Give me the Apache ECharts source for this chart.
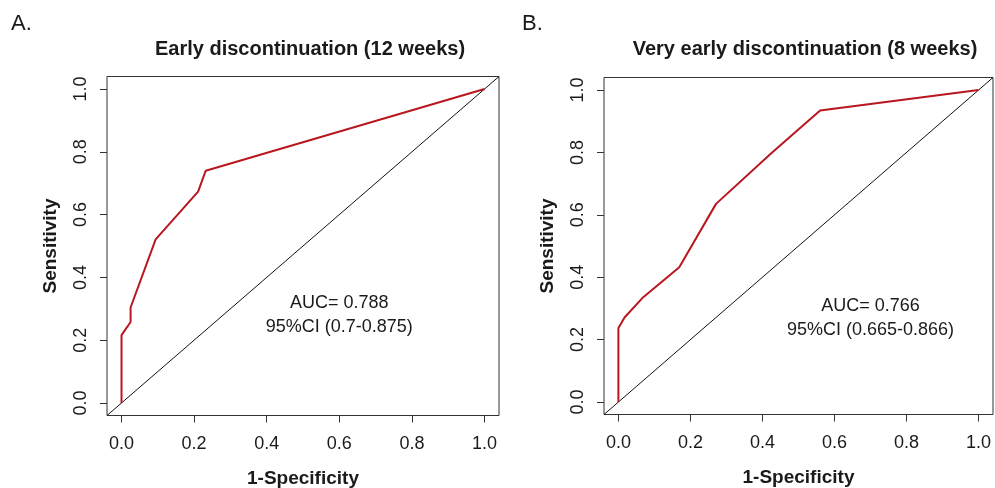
<!DOCTYPE html>
<html>
<head>
<meta charset="utf-8">
<script src="https://cdn.jsdelivr.net/npm/echarts@6/dist/echarts.min.js"></script>
<style>
	html, body { margin: 0; padding: 0; background: #fff; }
	#chart { width: 995px; height: 488px; }
</style>
</head>
<body>
<div id="chart"></div>
<script>
// ROC points (1-specificity, sensitivity)
const fprA = [0, 0, 0.025, 0.025, 0.094, 0.211, 0.232, 1];
const tprA = [0, 0.216, 0.258, 0.304, 0.521, 0.673, 0.740, 1];
const fprB = [0, 0, 0.017, 0.069, 0.169, 0.271, 0.426, 0.560, 1];
const tprB = [0, 0.237, 0.271, 0.336, 0.432, 0.635, 0.799, 0.934, 1];

const ticks = [0, 0.2, 0.4, 0.6, 0.8, 1.0];
const titles = ['Early discontinuation (12 weeks)', 'Very early discontinuation (8 weeks)'];
const panelTags = ['A.', 'B.'];
const aucText = [
	'AUC= 0.788\n95%CI (0.7-0.875)',
	'AUC= 0.766\n95%CI (0.665-0.866)'
];
const aucPos = [[0.6, 0.281], [0.7, 0.268]];

const FONT = '"Liberation Sans", Arial, Helvetica, sans-serif';
const INK = '#1a1a1a';

function zip(xs, ys) {
	return xs.map((x, i) => [x, ys[i]]);
}

function valueAxis(idx, name, isY) {
	return {
		type: 'value',
		gridIndex: idx,
		min: -0.04,
		max: 1.04,
		name: name,
		nameLocation: 'middle',
		nameGap: isY ? 47 : 54,
		nameTextStyle: { fontFamily: FONT, fontSize: 19, fontWeight: 'bold', color: INK },
		axisLine: { show: false, onZero: false },
		splitLine: { show: false },
		axisTick: {
			show: true,
			length: 7,
			customValues: ticks,
			lineStyle: { color: '#333', width: 1 }
		},
		axisLabel: {
			show: true,
			customValues: ticks,
			rotate: isY ? 90 : 0,
			margin: isY ? 17 : 20,
			fontFamily: FONT,
			fontSize: 18,
			color: INK,
			formatter: v => v.toFixed(1)
		}
	};
}

var chartDom = document.getElementById('chart');
var myChart = echarts.init(chartDom);

var option = {
	animation: false,
	backgroundColor: '#fff',
	title: [
		{ text: panelTags[0], left: 11, top: 13, padding: 0,
			textStyle: { fontFamily: FONT, fontSize: 22, fontWeight: 'normal', color: INK } },
		{ text: panelTags[1], left: 522, top: 13, padding: 0,
			textStyle: { fontFamily: FONT, fontSize: 22, fontWeight: 'normal', color: INK } },
		{ text: titles[0], left: 310, top: 39, padding: 0, textAlign: 'center',
			textStyle: { fontFamily: FONT, fontSize: 20, fontWeight: 'bold', color: INK } },
		{ text: titles[1], left: 805, top: 39, padding: 0, textAlign: 'center',
			textStyle: { fontFamily: FONT, fontSize: 20, fontWeight: 'bold', color: INK } }
	],
	grid: [
		{ left: 107, top: 76.5, width: 392, height: 339, containLabel: false, outerBoundsMode: 'none',
			show: true, borderColor: '#333', borderWidth: 1 },
		{ left: 604, top: 77.5, width: 389, height: 337, containLabel: false, outerBoundsMode: 'none',
			show: true, borderColor: '#333', borderWidth: 1 }
	],
	xAxis: [
		valueAxis(0, '1-Specificity', false),
		valueAxis(1, '1-Specificity', false)
	],
	yAxis: [
		valueAxis(0, 'Sensitivity', true),
		valueAxis(1, 'Sensitivity', true)
	],
	series: []
};

for (let i = 0; i < 2; i++) {
	option.series.push({
		type: 'line',
		xAxisIndex: i,
		yAxisIndex: i,
		symbol: 'none',
		silent: true,
		lineStyle: { color: '#111', width: 1 },
		data: [[-0.04, -0.04], [1.04, 1.04]]
	});
	option.series.push({
		type: 'line',
		xAxisIndex: i,
		yAxisIndex: i,
		symbol: 'none',
		silent: true,
		lineStyle: { color: '#b8171f', width: 2 },
		data: i === 0 ? zip(fprA, tprA) : zip(fprB, tprB)
	});
	option.series.push({
		type: 'scatter',
		xAxisIndex: i,
		yAxisIndex: i,
		symbolSize: 1,
		silent: true,
		itemStyle: { color: 'rgba(0,0,0,0)' },
		label: {
			show: true,
			position: 'inside',
			align: 'center',
			verticalAlign: 'middle',
			formatter: aucText[i],
			fontFamily: FONT,
			fontSize: 18,
			lineHeight: 24,
			color: INK,
			opacity: 1,
			textBorderWidth: 0
		},
		data: [aucPos[i]]
	});
}

option && myChart.setOption(option);
</script>
</body>
</html>
